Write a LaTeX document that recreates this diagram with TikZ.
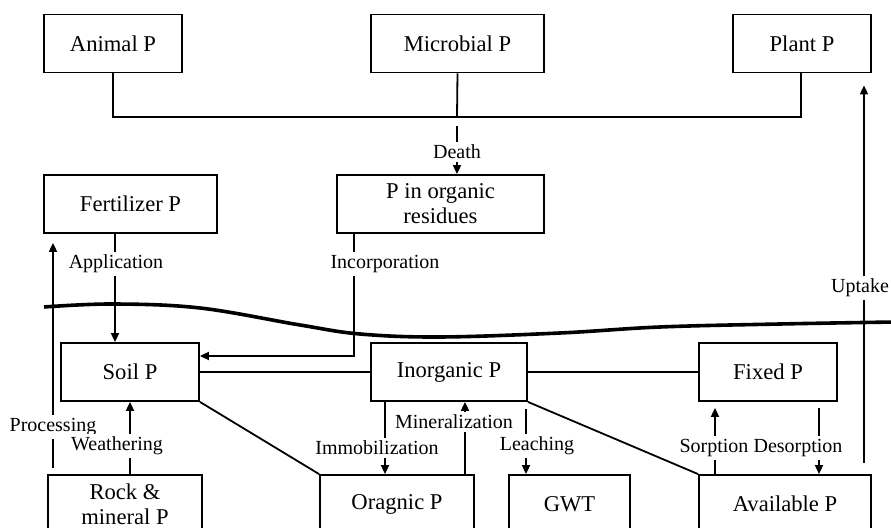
\documentclass[tikz,border=0pt]{standalone}
\usepackage{fontspec}
\setmainfont{Liberation Serif}
\usetikzlibrary{arrows.meta, calc}

\begin{document}
\begin{tikzpicture}[x=0.5pt, y=-0.5pt, line width=0.9pt,
    box/.style={draw, inner sep=0pt, align=center, minimum height=29pt, font=\fontsize{11.3}{12.5}\selectfont},
    lbl/.style={fill=white, inner xsep=2.5pt, inner ysep=1.5pt, font=\fontsize{10}{12}\selectfont},
    flow/.style={-{Triangle[length=4.5pt, width=4pt]}}]
  \useasboundingbox (0,0) rectangle (891,528);
  \clip (0,0) rectangle (891,528);
  \node[box, minimum width=69pt] (animal) at (113,43.5) {Animal P};
  \node[box, minimum width=86.5pt] (micro) at (457.5,43.5) {Microbial P};
  \node[box, minimum width=69pt] (plant) at (802,43.5) {Plant P};
  \node[box, minimum width=86.5pt] (fert) at (130.5,204) {Fertilizer P};
  \node[box, minimum width=103.5pt] (resid) at (440.5,204) {P in organic\\residues};
  \node[box, minimum width=69pt] (soil) at (130,372) {Soil P};
  \node[box, minimum width=78pt] (inorg) at (449,372) {Inorganic P};
  \node[box, minimum width=69pt] (fixed) at (768,372) {Fixed P};
  \node[box, minimum width=77pt] (rock) at (125,504) {Rock \&\\mineral P};
  \node[box, minimum width=77pt] (orgp) at (397,504) {Oragnic P};
  \node[box, minimum width=60.5pt] (gwt) at (569.5,504) {GWT};
  \node[box, minimum width=86pt] (avail) at (785,504) {Available P};

  \coordinate (tree) at (457,117);
  \coordinate (dth) at (457,126);
  \coordinate (appx) at (115,0);
  \coordinate (inc) at (354,356);
  \coordinate (proc) at (53,468);
  \coordinate (upt) at (864,463);
  \coordinate (immx) at (385,0);
  \coordinate (minx) at (465,0);
  \coordinate (leach) at (526,409);
  \coordinate (sorx) at (715,0);
  \coordinate (desorp) at (819,408);

  \draw (animal.south) |- (tree) -| (plant.south -| 801,0);
  \draw (micro.south) -- (tree);
  \draw[flow] (dth) -- (resid.north -| dth);
  \draw[flow] (fert.south -| appx) -- (soil.north -| appx);
  \draw[flow] (resid.south -| inc) -- (inc) -- (soil.east |- inc);
  \draw (soil.east) -- (inorg.west);
  \draw (inorg.east) -- (fixed.west);
  \draw[flow, shorten >=4.5pt] (proc) -- (fert.south -| proc);
  \draw[flow, shorten >=6pt] (upt) -- (plant.south -| upt);
  \draw[flow] (rock.north -| soil.south) -- (soil.south);
  \draw (soil.south east) -- (orgp.north west);
  \draw (inorg.south east) -- (avail.north west);
  \draw[flow] (inorg.south -| immx) -- (orgp.north -| immx);
  \draw[flow] (orgp.north -| minx) -- (inorg.south -| minx);
  \draw[flow] (leach) -- (gwt.north -| leach);
  \draw[flow, shorten >=3pt] (avail.north -| sorx) -- (fixed.south -| sorx);
  \draw[flow] (desorp) -- (avail.north -| desorp);
  \draw[line width=1.8pt] plot[smooth, tension=0.6] coordinates
    {(44,307) (113,304) (200,308) (300,325) (360,334) (440,337) (560,333) (660,327) (780,324) (895,322)};

  \node[lbl] (ldeath) at (457,152) {Death};
  \node[lbl] (lapp) at (116,264) {Application};
  \node[lbl] (linc) at (385,264) {Incorporation};
  \node[lbl] (lupt) at (860,288) {Uptake};
  \node[lbl] (lproc) at (53,427) {Processing};
  \node[lbl] (lweath) at (117,446) {Weathering};
  \node[lbl] (limm) at (377,448) {Immobilization};
  \node[lbl] (lmin) at (454,422) {Mineralization};
  \node[lbl] (lleach) at (537,446) {Leaching};
  \node[lbl] (lsorp) at (714,448) {Sorption};
  \node[lbl] (ldesorp) at (798,448) {Desorption};
\end{tikzpicture}
\end{document}
